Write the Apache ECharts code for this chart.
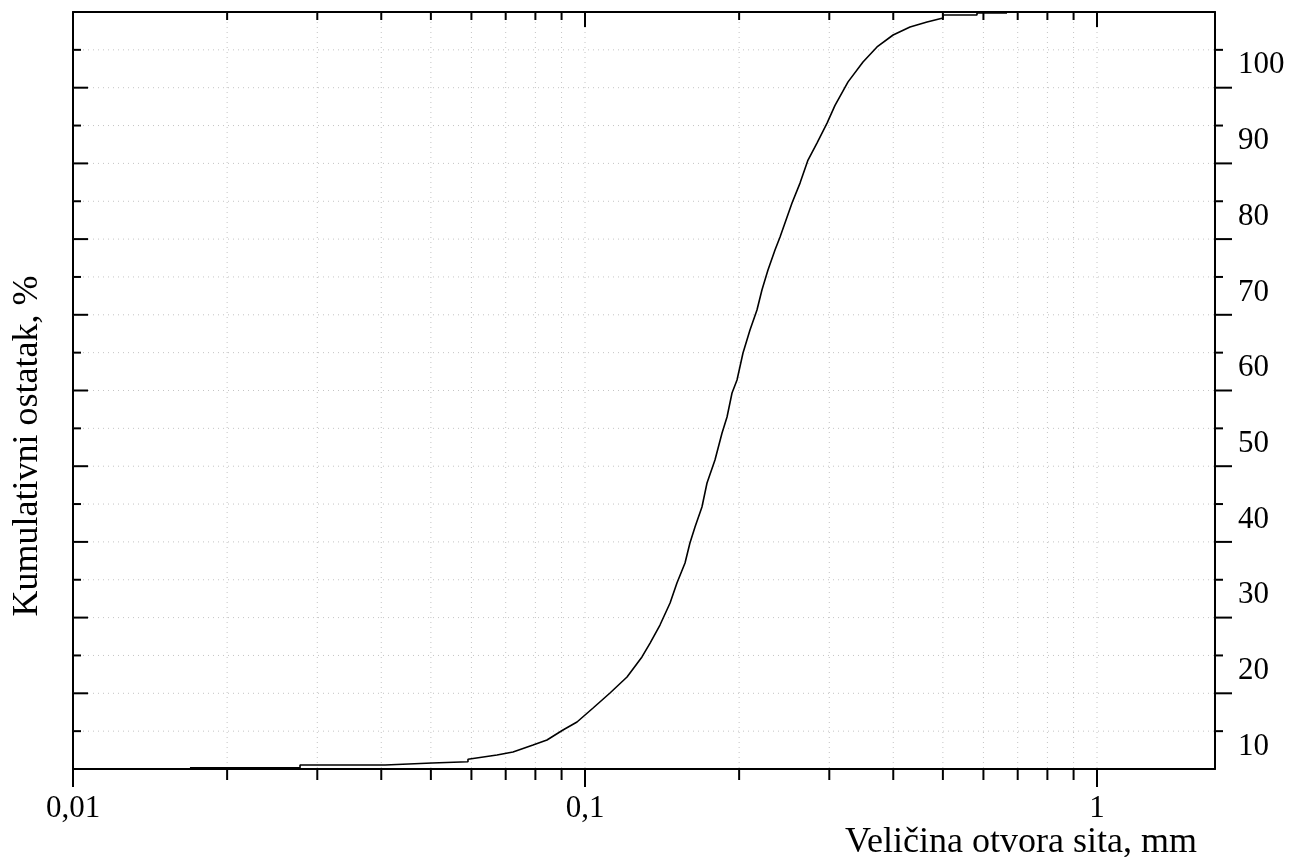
<!DOCTYPE html>
<html>
<head>
<meta charset="utf-8">
<script src="https://cdn.jsdelivr.net/npm/echarts@6/dist/echarts.min.js"></script>
<style>
html,body{margin:0;padding:0;background:#fff;}
#chart{width:1290px;height:857px;}
</style>
</head>
<body>
<div id="chart"></div>
<script>
// Sieve opening size, mm
const sizeMm = [0.01692, 0.02776, 0.02776, 0.04069, 0.04069, 0.05027, 0.05027, 0.05908, 0.05908, 0.06731,
  0.07234, 0.07916, 0.08428, 0.09057, 0.09647, 0.1037, 0.1119, 0.1208, 0.1292, 0.134,
  0.1401, 0.1466, 0.1512, 0.1568, 0.1603, 0.164, 0.1692, 0.1731, 0.1794, 0.1852,
  0.1894, 0.1937, 0.1981, 0.2035, 0.21, 0.2167, 0.2216, 0.2277, 0.235, 0.2404,
  0.2537, 0.263, 0.2726, 0.2838, 0.297, 0.3078, 0.3264, 0.3491, 0.3718, 0.3997,
  0.4313, 0.4656, 0.5003, 0.5003, 0.5829, 0.5829, 0.6672];
// Cumulative residue, %
const residue = [5.17, 5.17, 5.53, 5.53, 5.79, 5.79, 5.96, 5.96, 6.28, 6.85,
  7.25, 8.17, 8.83, 10.15, 11.21, 13.06, 15.04, 17.15, 19.8, 21.64,
  24.02, 26.93, 29.57, 32.21, 34.85, 36.97, 39.61, 42.78, 45.82, 49.39,
  51.5, 54.67, 56.39, 59.95, 62.99, 65.63, 68.28, 70.92, 73.56, 75.28,
  79.77, 82.4, 85.44, 87.69, 90.33, 92.66, 95.77, 98.4, 100.38, 101.96,
  103.02, 103.68, 104.21, 104.6, 104.6, 104.87, 104.87];

const xMin = 0.01, xMax = 1.7;
const yMin = 5, yMax = 105;
const xMajorTicks = [0.01, 0.1, 1];
const xMinorTicks = [0.02, 0.03, 0.04, 0.05, 0.06, 0.07, 0.08, 0.09,
  0.2, 0.3, 0.4, 0.5, 0.6, 0.7, 0.8, 0.9];
const yLongTicks = [15, 25, 35, 45, 55, 65, 75, 85, 95];
const yShortTicks = [10, 20, 30, 40, 50, 60, 70, 80, 90, 100];
const xLabelText = {'0.01': '0,01', '0.1': '0,1', '1': '1'};
const yTitle = 'Kumulativni ostatak, %';
const xTitle = 'Veličina otvora sita, mm';

const FONT = "'Liberation Serif', 'Times New Roman', serif";
const GRID_COLOR = '#c4c4c4';

const xTickData = xMajorTicks.map(v => [v, yMin, 1]).concat(xMinorTicks.map(v => [v, yMin, 0]));
const yTickData = yLongTicks.map(v => [xMin, v, 1]).concat(yShortTicks.map(v => [xMin, v, 0]));

const chart = echarts.init(document.getElementById('chart'), null, {renderer: 'canvas'});

function lineShape(x1, y1, x2, y2, dashed) {
  return {
    type: 'line',
    shape: {x1: x1, y1: y1, x2: x2, y2: y2},
    style: dashed ? {stroke: GRID_COLOR, lineWidth: 1, lineDash: [1, 4]} : {stroke: '#000', lineWidth: 2},
    silent: true
  };
}

const option = {
  animation: false,
  backgroundColor: '#fff',
  grid: {left: 73, right: 75, top: 12, bottom: 88, containLabel: false},
  xAxis: [{
    type: 'log', logBase: 10, min: xMin, max: xMax, position: 'bottom',
    axisLine: {show: true, onZero: false, lineStyle: {color: '#000', width: 2}},
    axisTick: {show: false},
    splitLine: {show: false},
    axisLabel: {
      show: true, margin: 24, color: '#000', fontFamily: FONT, fontSize: 31,
      formatter: function (v) {
        const l = Math.log10(v);
        if (Math.abs(l - Math.round(l)) < 1e-6) {
          const key = String(Math.pow(10, Math.round(l)));
          return xLabelText[key] || '';
        }
        return '';
      }
    }
  }, {
    type: 'log', logBase: 10, min: xMin, max: xMax, position: 'top',
    axisLine: {show: true, onZero: false, lineStyle: {color: '#000', width: 2}},
    axisTick: {show: false}, axisLabel: {show: false}, splitLine: {show: false}
  }],
  yAxis: [{
    type: 'value', min: yMin, max: yMax, interval: 5, position: 'right',
    axisLine: {show: true, onZero: false, lineStyle: {color: '#000', width: 2}},
    axisTick: {show: false},
    splitLine: {show: false},
    axisLabel: {
      show: true, margin: 23, color: '#000', fontFamily: FONT, fontSize: 31,
      verticalAlign: 'top',
      formatter: function (v) { return (v % 10 === 0 && v >= 10 && v <= 100) ? String(v) : ''; }
    }
  }, {
    type: 'value', min: yMin, max: yMax, interval: 5, position: 'left',
    axisLine: {show: true, onZero: false, lineStyle: {color: '#000', width: 2}},
    axisTick: {show: false}, axisLabel: {show: false}, splitLine: {show: false}
  }],
  graphic: [{
    type: 'text', x: 28, y: 446, rotation: Math.PI / 2,
    style: {text: yTitle, font: "36px " + FONT, fill: '#000', textAlign: 'center', textVerticalAlign: 'middle'}
  }, {
    type: 'text', x: 1021, y: 843,
    style: {text: xTitle, font: "36px " + FONT, fill: '#000', textAlign: 'center', textVerticalAlign: 'middle'}
  }],
  series: [{
    // vertical grid lines + x ticks (bottom outward, top inward)
    type: 'custom', xAxisIndex: 0, yAxisIndex: 0, clip: false, silent: true, z: 1,
    data: xTickData,
    renderItem: function (params, api) {
      const x = api.value(0);
      const major = api.value(2) === 1;
      const pb = api.coord([x, yMin]);
      const pt = api.coord([x, yMax]);
      const children = [];
      if (x > xMin) children.push(lineShape(pb[0], pt[1], pb[0], pb[1], true));
      children.push(lineShape(pb[0], pb[1], pb[0], pb[1] + (major ? 18 : 11)));
      if (x > xMin) children.push(lineShape(pt[0], pt[1], pt[0], pt[1] + (major ? 15 : 8)));
      return {type: 'group', children: children};
    }
  }, {
    // horizontal grid lines + y ticks (left inward, right outward)
    type: 'custom', xAxisIndex: 0, yAxisIndex: 0, clip: false, silent: true, z: 1,
    data: yTickData,
    renderItem: function (params, api) {
      const y = api.value(1);
      const long = api.value(2) === 1;
      const pl = api.coord([xMin, y]);
      const pr = api.coord([xMax, y]);
      return {type: 'group', children: [
        lineShape(pl[0], pl[1], pr[0], pl[1], true),
        lineShape(pl[0], pl[1], pl[0] + (long ? 15 : 8), pl[1]),
        lineShape(pr[0], pr[1], pr[0] + (long ? 17 : 8), pr[1])
      ]};
    }
  }, {
    type: 'line', xAxisIndex: 0, yAxisIndex: 0, z: 5,
    data: sizeMm.map((x, i) => [x, residue[i]]),
    showSymbol: false, symbol: 'none', smooth: false,
    lineStyle: {color: '#000', width: 1.6},
    silent: true
  }]
};
chart.setOption(option);
</script>
</body>
</html>
